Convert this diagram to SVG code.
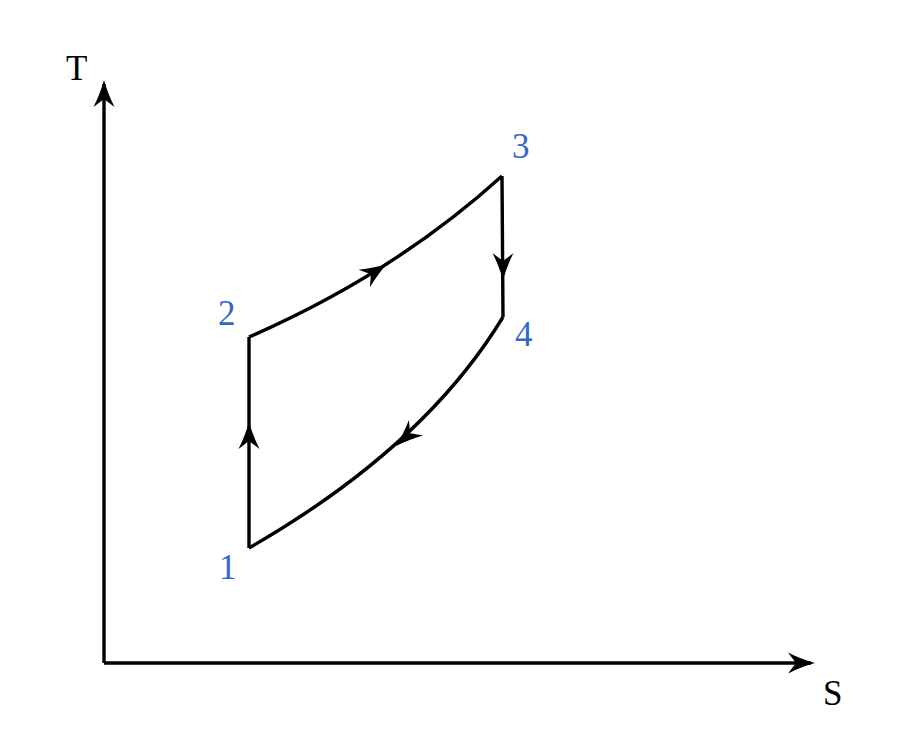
<svg xmlns="http://www.w3.org/2000/svg" width="900" height="750" viewBox="0 0 900 750">
<style>
.ln{fill:none;stroke:#000;stroke-width:3.4;stroke-linejoin:miter}
text{font-family:'Liberation Serif','Times New Roman',Times,serif;font-size:35px}
.ax{fill:#000}
.pt{fill:#3366cc}
</style>
<defs>
<path id="ah" d="M0,0 C-9,-2.5 -18,-6 -27,-10.5 L-19,0 L-27,10.5 C-18,6 -9,2.5 0,0 Z" fill="#000"/>
</defs>
<rect width="900" height="750" fill="#fff"/>
<g id="axes">
<path class="ln" d="M104,663 V84 M104,663 H811"/>
<use href="#ah" transform="translate(104,80) rotate(-90)"/>
<use href="#ah" transform="translate(815,663)"/>
<text class="ax" x="66" y="80" font-family="Liberation Serif, serif">T</text>
<text class="ax" x="823" y="705" font-family="Liberation Serif, serif">S</text>
</g>
<g id="connectors">
<path class="ln" d="M249,548 V337"/>
<path class="ln" d="M249,337 Q394.5,273.5 502,176"/>
<path class="ln" d="M502,176 L503,317"/>
<path class="ln" d="M503,317 Q424,447.5 249,548"/>
<use href="#ah" transform="translate(249,422) rotate(-90)"/>
<use href="#ah" transform="translate(503,280) rotate(90)"/>
<use href="#ah" transform="translate(387,264) rotate(-32.5)"/>
<use href="#ah" transform="translate(396,446) rotate(137.7)"/>
</g>
<g id="p1"><text class="pt" x="219" y="579" font-family="Liberation Serif, serif">1</text></g>
<g id="p2"><text class="pt" x="218" y="325" font-family="Liberation Serif, serif">2</text></g>
<g id="p3"><text class="pt" x="512" y="158" font-family="Liberation Serif, serif">3</text></g>
<g id="p4"><text class="pt" x="515" y="346" font-family="Liberation Serif, serif">4</text></g>
</svg>
